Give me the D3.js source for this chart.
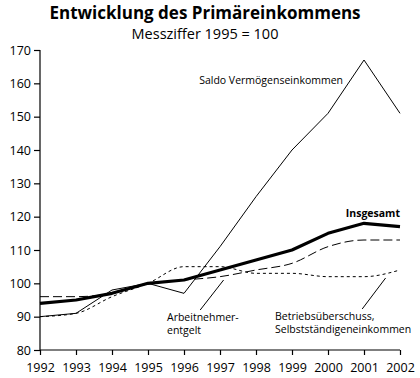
<!DOCTYPE html>
<html>
<head>
<meta charset="utf-8">
<script src="https://cdn.jsdelivr.net/npm/d3@7"></script>
<style>
  html, body { margin: 0; padding: 0; background: #fff; }
  svg { display: block; font-family: "Open Sans", "Noto Sans", sans-serif; }
</style>
</head>
<body>
<svg id="chart" width="420" height="378"></svg>
<script>
// Jahre und Messziffern (1995 = 100)
const years = [1992, 1993, 1994, 1995, 1996, 1997, 1998, 1999, 2000, 2001, 2002];
const insgesamt = [94, 95, 97, 100, 101, 104, 107, 110, 115, 118, 117];
const saldoVermoegen = [90, 91, 98, 100, 97, 111, 126, 140, 151, 167, 151];
const arbeitnehmer = [96, 96, 97, 100, 101, 102, 104, 106, 111, 113, 113];
const betrieb = [90, 91, 96, 100, 105, 105, 103, 103, 102, 102, 104];
const yTicks = [80, 90, 100, 110, 120, 130, 140, 150, 160, 170];

const svg = d3.select("#chart");
const x = d3.scaleLinear().domain([1992, 2002]).range([40, 400]);
const y = d3.scaleLinear().domain([80, 170]).range([350, 50]);

// Titel
svg.append("text").attr("x", 205).attr("y", 18.5).attr("text-anchor", "middle")
  .attr("font-weight", "bold").attr("font-size", 17).text("Entwicklung des Primäreinkommens");
svg.append("text").attr("x", 205).attr("y", 38.5).attr("text-anchor", "middle")
  .attr("font-size", 14.5).text("Messziffer 1995 = 100");

// Achsen
const yAxis = svg.append("g").attr("transform", "translate(40,0)")
  .call(d3.axisLeft(y).tickValues(yTicks).tickSize(6).tickPadding(3));
const xAxis = svg.append("g").attr("transform", "translate(0,350)")
  .call(d3.axisBottom(x).tickValues(years).tickFormat(d3.format("d")).tickSize(5).tickPadding(8));
[yAxis, xAxis].forEach(g => {
  g.select(".domain").attr("stroke", "#000").attr("stroke-width", 1.2);
  g.selectAll(".tick line").attr("stroke", "#000").attr("stroke-width", 1.2);
  g.selectAll(".tick text").attr("font-size", 12.5).attr("fill", "#000")
    .attr("font-family", "'Open Sans', 'Noto Sans', sans-serif");
});
xAxis.select(".domain").attr("d", "M40,0H400");
yAxis.select(".domain").attr("d", "M0,350V50");

// Linien
const pts = vals => years.map((yr, i) => [yr, vals[i]]);
const straight = d3.line().x(d => x(d[0])).y(d => y(d[1]));
const smooth = d3.line().x(d => x(d[0])).y(d => y(d[1])).curve(d3.curveMonotoneX);

const series = [
  { vals: betrieb, gen: smooth, width: 1, dash: "3,3" },
  { vals: arbeitnehmer, gen: smooth, width: 1, dash: "9,4" },
  { vals: saldoVermoegen, gen: straight, width: 1, dash: null },
  { vals: insgesamt, gen: straight, width: 3.2, dash: null }
];
svg.append("g").selectAll("path").data(series).join("path")
  .attr("d", s => s.gen(pts(s.vals)))
  .attr("fill", "none").attr("stroke", "#000")
  .attr("stroke-width", s => s.width)
  .attr("stroke-dasharray", s => s.dash)
  .attr("stroke-linejoin", "round");

// Beschriftungen
const lbl = svg.append("g").attr("font-size", 10.5).attr("fill", "#000");
lbl.append("text").attr("x", 343).attr("y", 84).attr("text-anchor", "end").text("Saldo Vermögenseinkommen");
lbl.append("text").attr("x", 400).attr("y", 217).attr("text-anchor", "end")
  .attr("font-weight", "bold").text("Insgesamt");
lbl.append("text").attr("x", 167).attr("y", 321).text("Arbeitnehmer-");
lbl.append("text").attr("x", 167).attr("y", 334).text("entgelt");
lbl.append("text").attr("x", 275).attr("y", 320).text("Betriebsüberschuss,");
lbl.append("text").attr("x", 275).attr("y", 333).text("Selbstständigeneinkommen");

// Hinweislinien
const leaders = [
  [[x(1996.45), 310], [x(1997.1), 280]],
  [[x(2000.95), 309], [x(2001.6), 278]]
];
svg.append("g").selectAll("line").data(leaders).join("line")
  .attr("x1", d => d[0][0]).attr("y1", d => d[0][1])
  .attr("x2", d => d[1][0]).attr("y2", d => d[1][1])
  .attr("stroke", "#000").attr("stroke-width", 1);
</script>
</body>
</html>
